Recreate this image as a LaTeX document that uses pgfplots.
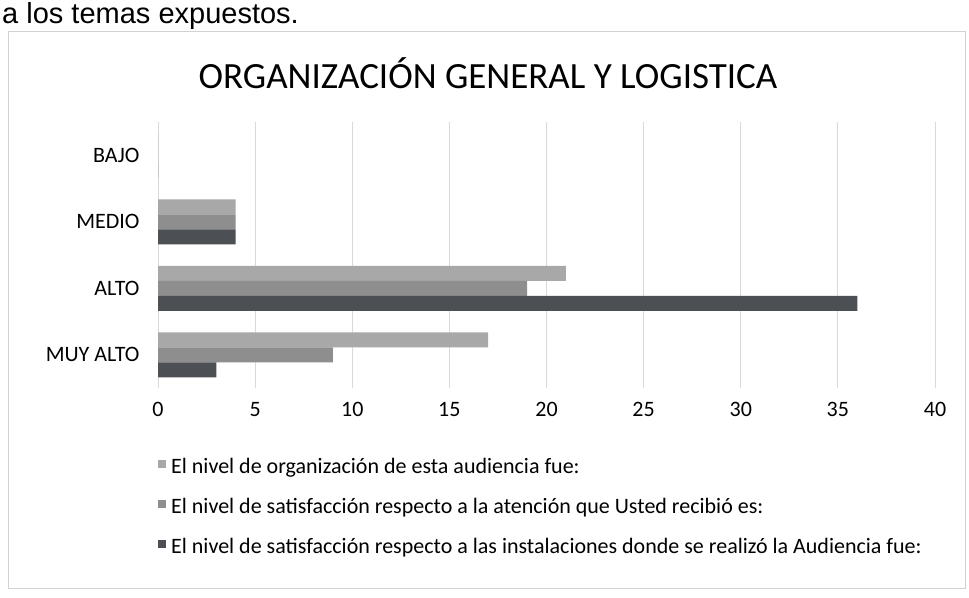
\documentclass[border=0pt]{standalone}
\usepackage{pgfplots}
\pgfplotsset{compat=1.18}
\usepackage{fontspec}
\setmainfont{Carlito}
\newfontfamily\arialfont{Liberation Sans}
\definecolor{serA}{HTML}{A8A8A8}
\definecolor{serB}{HTML}{8E8E8E}
\definecolor{serC}{HTML}{4C4F54}
\definecolor{gridc}{HTML}{D9D9D9}
\begin{document}
\begin{tikzpicture}[x=1pt,y=1pt]
\clip (0,0) rectangle (969,597);
\fill[white] (0,0) rectangle (969,597);
\node[anchor=base west,inner sep=0pt,font=\arialfont\fontsize{29}{32}\selectfont] at (2,573) {a los temas expuestos.};
\draw[gray!35,line width=0.8pt] (8,9) rectangle (965,566);
\node[font=\fontsize{37}{42}\selectfont] at (488,524) {ORGANIZACIÓN GENERAL Y LOGISTICA};
\begin{axis}[
  at={(158pt,209pt)}, anchor=south west,
  scale only axis, width=777pt, height=266pt,
  xbar=0pt, bar width=15pt,
  xmin=0, xmax=40, xtick={0,5,...,40},
  ymin=-0.5, ymax=3.5, y dir=reverse,
  ytick={0,1,2,3}, yticklabels={BAJO,MEDIO,ALTO,MUY ALTO},
  axis line style={draw=none},
  major tick length=0pt,
  xmajorgrids, grid style={gridc, line width=0.8pt},
  tick label style={font=\fontsize{22}{26}\selectfont},
  /pgf/number format/assume math mode=true,
  xticklabel style={yshift=-11pt},
  yticklabel style={xshift=-15pt},
  legend style={at={(axis description cs:0,-0.22)}, anchor=north west, draw=none,
    font=\fontsize{22}{26}\selectfont, inner sep=0pt,
    nodes={minimum height=40pt, inner sep=0pt},
    /tikz/every odd column/.style={column sep=5pt}},
  legend cell align=left,
  legend image code/.code={\fill[#1] (0pt,-1pt) rectangle (8pt,7pt);},
]
\addplot[fill=serA, draw=none, bar shift=15pt] coordinates {(0,0) (4,1) (21,2) (17,3)};
\addplot[fill=serB, draw=none, bar shift=0pt] coordinates {(0,0) (4,1) (19,2) (9,3)};
\addplot[fill=serC, draw=none, bar shift=-15pt] coordinates {(0,0) (4,1) (36,2) (3,3)};
\legend{El nivel de organización de esta audiencia fue:,
El nivel de satisfacción respecto a la atención que Usted recibió es:,
El nivel de satisfacción respecto a las instalaciones donde se realizó la Audiencia fue:}
\end{axis}
\end{tikzpicture}
\end{document}
